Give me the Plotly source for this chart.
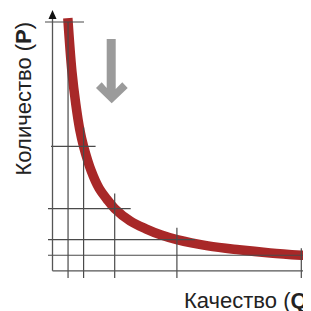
import plotly.graph_objects as go

# ---- data ----
# marked points on the curve (Q = quality, P = quantity)
point_q = [1, 2, 4, 8, 16]
point_p = [16, 8, 4, 2, 1]

# curve samples
curve_q = [0.985, 1.25, 1.5, 1.75, 2, 2.5, 3, 3.5, 4, 5, 6, 7, 8, 10, 12, 14, 16, 16.5]
curve_p = [16.25, 12.8, 10.7, 9.1, 8, 6.4, 5.3, 4.6, 4, 3.2, 2.7, 2.3, 2, 1.6, 1.35, 1.15, 1.0, 0.97]

x_label = "Качество (<b>Q</b>)"
y_label = "Количество (<b>P</b>)"

# ---- layout / style ----
WIN = 311
OFF = 8              # page body margin
W = H = WIN - OFF
S = 15.55            # px per unit
X0, Y0 = 52.5, 270.8 # screen pixel position of origin
xr = [(OFF - X0) / S, (WIN - X0) / S]
yr = [(Y0 - WIN) / S, (Y0 - OFF) / S]

def u(px):
    return px / S

GUIDE = "#4a4a4a"
CURVE = "#a82828"
ARROW = "#9b9b9b"
TEXT = "#222222"

# guide line extents (pixels): left start x, right overshoot, top overshoot
h_left = [45, 51, 48, 48, 48]
h_over = [16, 12, 16, 18, 2]
v_over = [0, 19, 15, 12, 7]
v_bottom = 278

shapes = []
for q, p, hl, ho, vo in zip(point_q, point_p, h_left, h_over, v_over):
    shapes.append(dict(type="line", xref="x", yref="y",
                       x0=u(hl - X0), x1=q + u(ho), y0=p, y1=p,
                       line=dict(color=GUIDE, width=1.2)))
    shapes.append(dict(type="line", xref="x", yref="y",
                       x0=q, x1=q, y0=-u(v_bottom - Y0), y1=p + u(vo),
                       line=dict(color=GUIDE, width=1.2)))

# axes
shapes.append(dict(type="line", xref="x", yref="y", x0=0, x1=0, y0=0, y1=u(Y0 - 18),
                   line=dict(color="#555555", width=1.3)))
shapes.append(dict(type="line", xref="x", yref="y", x0=0, x1=u(320 - X0), y0=0, y1=0,
                   line=dict(color="#555555", width=1.3)))
# axis arrowheads
shapes.append(dict(type="path", xref="x", yref="y",
                   path=f"M {-u(4)} {u(Y0-19)} L {u(4)} {u(Y0-19)} L 0 {u(Y0-10)} Z",
                   fillcolor="#111111", line=dict(width=0)))
shapes.append(dict(type="path", xref="x", yref="y",
                   path=f"M {u(310-X0)} {u(4)} L {u(310-X0)} {-u(4)} L {u(319-X0)} 0 Z",
                   fillcolor="#111111", line=dict(width=0)))

# gray downward arrow
arrow_px = [(106.7, 39), (115.7, 39), (115.7, 89), (122.3, 82.3), (127.7, 88),
            (111.7, 103.3), (96, 88), (101.7, 82.3), (106.7, 88)]
pts = [(u(x - X0), u(Y0 - y)) for x, y in arrow_px]
path = "M " + " L ".join(f"{a:.4f} {b:.4f}" for a, b in pts) + " Z"
shapes.append(dict(type="path", xref="x", yref="y", path=path,
                   fillcolor=ARROW, line=dict(width=0)))

fig = go.Figure()
fig.add_trace(go.Scatter(x=curve_q, y=curve_p, mode="lines",
                         line=dict(color=CURVE, width=9.5, shape="spline", smoothing=1.0),
                         hoverinfo="skip", showlegend=False))

annotations = [
    dict(text=y_label, xref="x", yref="y", x=u(22.5 - X0), y=u(Y0 - 99),
         textangle=-90, showarrow=False, xanchor="center", yanchor="middle",
         font=dict(family="Arial, Liberation Sans", size=22, color=TEXT)),
    dict(text=x_label, xref="x", yref="y", x=u(182 - X0), y=u(Y0 - 300.4),
         showarrow=False, xanchor="left", yanchor="middle",
         font=dict(family="Arial, Liberation Sans", size=22, color=TEXT)),
]

fig.update_layout(
    width=W, height=H,
    margin=dict(l=0, r=0, t=0, b=0, pad=0),
    paper_bgcolor="white", plot_bgcolor="white",
    xaxis=dict(range=xr, visible=False, fixedrange=True),
    yaxis=dict(range=yr, visible=False, fixedrange=True),
    shapes=shapes, annotations=annotations,
    showlegend=False,
)

fig.write_html("out.html", config={"displayModeBar": False})
